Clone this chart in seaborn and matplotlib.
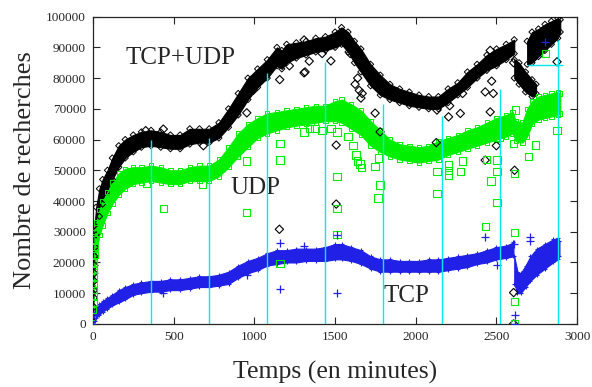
import numpy as np
import pandas as pd
import matplotlib
matplotlib.use("Agg")
import matplotlib.pyplot as plt
import seaborn as sns


# temps en minutes, valeurs en milliers de recherches (bord bas / bord haut de la bande)
TOTAL_TIMES = [0, 10, 20, 40, 60, 90, 120, 160, 200, 250, 300, 360, 420, 480, 540, 600, 660, 720,
               780, 840, 900, 960, 1020, 1080, 1140, 1170, 1200, 1260, 1320, 1380, 1440, 1500,
               1540, 1580, 1620, 1660, 1720, 1780, 1840, 1900, 1960, 2020, 2080, 2140, 2200,
               2260, 2320, 2380, 2440, 2500, 2560, 2610]
TOTAL_LO = [2, 22, 29, 35, 39, 43, 47, 51, 54, 56, 57.5, 58, 57.5, 57, 57, 58.5, 59, 59, 60.5, 64,
            68, 73, 77, 80, 84, 83, 85, 86.5, 87.5, 88.5, 89, 90, 91, 88.5, 85, 82, 77.5, 74.5, 73,
            72, 71, 70.5, 70, 70, 72, 74.5, 77, 80, 82.5, 84, 86, 88]
TOTAL_HI = [10, 32, 38, 44, 47, 50, 54, 58, 60, 61.5, 62.5, 63, 62.5, 61.5, 61.5, 63.5, 63.5, 63.5,
            65.5, 70, 75, 80, 83, 86, 90, 89, 91, 91.5, 92, 93, 93.5, 95, 96.5, 95, 92, 89.5, 84.5,
            81, 78, 76.5, 75.5, 74.5, 74, 74, 76.5, 78.5, 82, 84.5, 87.5, 89.5, 91, 92.5]

TOTAL_BLOB_TIMES = [2610, 2640, 2680, 2720, 2745]
TOTAL_BLOB_LO = [80, 78, 75.5, 74, 75]
TOTAL_BLOB_HI = [86, 85, 82, 79.5, 78]

TOTAL_END_TIMES = [2690, 2720, 2760, 2800, 2840, 2880, 2895]
TOTAL_END_LO = [84.5, 85, 87, 89, 91, 93, 95]
TOTAL_END_HI = [92, 95, 96, 97.5, 98.5, 99.5, 99]

UDP_TIMES = [0, 10, 20, 40, 60, 90, 120, 160, 200, 250, 300, 360, 420, 480, 540, 600, 660, 720,
             780, 840, 900, 960, 1020, 1080, 1140, 1200, 1260, 1320, 1380, 1440, 1500, 1540,
             1600, 1660, 1720, 1780, 1840, 1900, 1960, 2020, 2080, 2140, 2200, 2260, 2320, 2380,
             2440, 2500, 2560, 2600, 2620, 2660, 2690, 2720, 2760, 2800, 2840, 2880, 2895]
UDP_LO = [2, 17, 23, 29, 32, 36, 39, 42, 44, 45.5, 46, 46.5, 46, 45.5, 45.5, 46.5, 46.5, 46.5, 48,
          51, 54.5, 57.5, 60.5, 62, 63, 64, 64.5, 65, 65.5, 66, 66, 65.5, 63.5, 61.5, 58, 56, 54.5,
          53.5, 53, 52.5, 53, 53.5, 55, 56, 57, 58, 59, 60, 61, 62, 59.5, 59, 61, 65, 66.5, 67,
          67.5, 68, 68.5]
UDP_HI = [12, 30, 33, 37, 40, 43, 46, 49, 50.5, 51, 51, 51.5, 51, 50, 50, 51, 51.5, 51.5, 53.5,
          57.5, 62, 65, 67, 68.5, 69, 69.5, 70, 70.5, 71, 71, 72.5, 73, 71.5, 69.5, 66, 63, 60,
          58.5, 58, 57.5, 58, 59.5, 60.5, 61.5, 63, 64, 65.5, 67, 68, 69, 66, 65.5, 70, 72.5, 74,
          74.5, 75, 75.5, 75]

TCP_TIMES = [0, 10, 20, 40, 60, 90, 120, 160, 200, 250, 300, 360, 420, 480, 540, 600, 660, 720,
             780, 840, 900, 960, 1020, 1080, 1140, 1200, 1260, 1320, 1380, 1440, 1500, 1540,
             1600, 1660, 1720, 1780, 1840, 1900, 1960, 2020, 2080, 2140, 2200, 2260, 2320, 2380,
             2440, 2500, 2560, 2605]
TCP_LO = [0, 1, 2, 3, 4, 5, 6, 7, 8, 9.5, 10, 10.5, 10.5, 11, 11, 11.5, 12, 12, 12.5, 13, 15, 16.5,
          17.5, 19, 19.5, 20, 20, 20.5, 20.5, 20.5, 21, 21, 20.5, 19.5, 18, 17, 17, 17, 17, 17, 17,
          17, 17.5, 18, 18.5, 19.5, 20, 21, 21.5, 22]
TCP_HI = [2.5, 4, 5, 6.5, 7.5, 8.5, 9.5, 11, 12, 13, 13.5, 14, 14, 14.5, 14.5, 15, 15.5, 15.5, 16,
          17, 19, 20.5, 21.5, 23, 24, 24, 24.5, 24.5, 24.5, 25, 26, 26, 25, 24, 22, 21, 21, 20.5,
          20.5, 20.5, 21, 21, 21.5, 22, 22.5, 23, 24, 25, 25.5, 26.5]

TCP_END_TIMES = [2610, 2630, 2650, 2680, 2710, 2750, 2800, 2850, 2880, 2890]
TCP_END_LO = [13, 10, 10, 12, 14, 16, 18, 20, 21, 22]
TCP_END_HI = [22, 17, 16.5, 19, 22, 24.5, 26, 27.5, 28, 27]

# points isoles
TOTAL_START_T = [1, 2, 3, 4, 5, 6, 7, 8]
TOTAL_START_V = [5.5, 8.5, 11, 14, 16.5, 19, 22, 25]
UDP_START_T = [1, 2, 3, 4, 5, 6, 7, 8, 9, 10, 11]
UDP_START_V = [4.5, 7, 9, 11, 13, 15.5, 17.5, 20, 22.5, 25, 27.5]

TOTAL_OUT_T = [327, 436, 684, 953, 993, 1155, 1157, 1217, 1308, 1308, 1314, 1340, 1420, 1474,
               1507, 1507, 1594, 1624, 1640, 1650, 1660, 1668, 1748, 1779, 2127, 2131, 2203,
               2210, 2276, 2290, 2430, 2430, 2461, 2461, 2470, 2480, 2499, 2606, 2606, 2606,
               2612, 2875]
TOTAL_OUT_V = [62.9, 63.4, 58, 68.7, 76, 30.8, 79.5, 84, 92.4, 81.7, 82, 85.5, 88, 85.6, 58.2,
               39, 88, 78, 80, 76, 73.5, 75, 68.6, 62.5, 59, 69.6, 67.4, 71, 68.5, 75, 75.5, 53.3,
               69, 89, 79, 75, 58, 85, 10.2, 0, 50, 85.3]

UDP_OUT_T = [333, 436, 680, 953, 953, 1159, 1159, 1159, 1308, 1340, 1376, 1420, 1474, 1511,
             1511, 1511, 1511, 1580, 1610, 1630, 1640, 1655, 1662, 1748, 1765, 1770, 1779, 2131,
             2131, 2203, 2203, 2203, 2276, 2290, 2430, 2440, 2466, 2503, 2503, 2503, 2519, 2606,
             2612, 2612, 2612, 2612, 2616, 2699, 2740, 2802, 2875]
UDP_OUT_V = [45.8, 37.6, 45.4, 53, 36.2, 58.8, 53.3, 19.7, 62.5, 63.5, 63.7, 63, 63.6, 62.5,
             47.9, 37.6, 29, 61, 58, 55, 53, 52, 51, 51.2, 41, 54, 45.2, 49.5, 42.5, 48.5, 50,
             51.7, 49.5, 53, 31.6, 53.5, 46.5, 53.3, 49.5, 39.5, 60.7, 58.8, 29.8, 7.2, 0, 49,
             69.6, 54.4, 58.2, 88, 63]

TCP_OUT_T = [436, 953, 1159, 1159, 1310, 1511, 1511, 2430, 2503, 2606, 2612, 2612, 2707, 2710, 2802]
TCP_OUT_V = [10, 16, 26.2, 11.3, 25.5, 10, 29, 28.2, 19.2, 26, 2.9, 0, 28.3, 27, 91.8]

# reperes toutes les 6 heures
SIX_HOURS = [360, 720, 1080, 1440, 1800, 2160, 2520, 2880]
SIX_HOURS_TOP = [60, 60.4, 81.5, 85.3, 71.5, 67.6, 76.3, 92.4]
MARK_LEVEL = 84.2
MARK_START, MARK_END = 2695, 2912

BLACK = "#000000"
GREEN = "#00ee00"
BLUE = "#2020e6"
CYAN = "#00e8f0"


def scatter_points(ax, times, values, color, marker, size=30, zorder=4, lw=0.8):
    df = pd.DataFrame({"t": times, "v": np.asarray(values) * 1000})
    if marker == "+":
        sns.scatterplot(data=df, x="t", y="v", ax=ax, marker="+", color=color, s=size,
                        linewidth=lw + 0.1, zorder=zorder)
    else:
        sns.scatterplot(data=df, x="t", y="v", ax=ax, marker=marker, s=size, facecolor="none",
                        edgecolor=color, linewidth=lw, zorder=zorder)


def draw_band(ax, times, lo, hi, color, marker):
    t = np.asarray(times)
    ax.fill_between(t, np.asarray(lo) * 1000, np.asarray(hi) * 1000, color=color, lw=0.8,
                    edgecolor=color, zorder=2)
    # petits marqueurs sur les bords pour l'aspect granuleux
    scatter_points(ax, list(t) + list(t), list(lo) + list(hi), color, marker, size=10,
                   zorder=3, lw=0.7)


sns.set_style("ticks")
plt.rcParams["font.family"] = ["Liberation Serif", "DejaVu Serif"]

fig = plt.figure(figsize=(5.92, 3.87), dpi=100)
ax = fig.add_axes([0.157, 0.163, 0.818, 0.794])

draw_band(ax, TOTAL_TIMES, TOTAL_LO, TOTAL_HI, BLACK, "D")
draw_band(ax, TOTAL_BLOB_TIMES, TOTAL_BLOB_LO, TOTAL_BLOB_HI, BLACK, "D")
draw_band(ax, TOTAL_END_TIMES, TOTAL_END_LO, TOTAL_END_HI, BLACK, "D")
draw_band(ax, UDP_TIMES, UDP_LO, UDP_HI, GREEN, "s")
draw_band(ax, TCP_TIMES, TCP_LO, TCP_HI, BLUE, "+")
draw_band(ax, TCP_END_TIMES, TCP_END_LO, TCP_END_HI, BLUE, "+")

scatter_points(ax, TOTAL_START_T, TOTAL_START_V, BLACK, "D", size=18)
scatter_points(ax, UDP_START_T, UDP_START_V, GREEN, "s", size=22)
scatter_points(ax, TOTAL_OUT_T, TOTAL_OUT_V, BLACK, "D", size=18)
scatter_points(ax, UDP_OUT_T, UDP_OUT_V, GREEN, "s", size=28)
scatter_points(ax, TCP_OUT_T, TCP_OUT_V, BLUE, "+", size=40)

ax.vlines(SIX_HOURS, 0, np.asarray(SIX_HOURS_TOP) * 1000, color=CYAN, lw=1.0, zorder=6)
ax.hlines(MARK_LEVEL * 1000, MARK_START, MARK_END, color=CYAN, lw=1.0, zorder=6)

ax.text(540, 86500, "TCP+UDP", fontsize=18, ha="center", va="center")
ax.text(1004, 44200, "UDP", fontsize=18, ha="center", va="center")
ax.text(1940, 9100, "TCP", fontsize=18, ha="center", va="center")

ax.set_xlim(0, 3000)
ax.set_ylim(0, 100000)
ax.set_xticks(range(0, 3001, 500))
ax.set_yticks(range(0, 100001, 10000))
ax.tick_params(direction="in", length=5, width=0.8, top=True, right=True, labelsize=9.5, pad=5)
for spine in ax.spines.values():
    spine.set_linewidth(0.9)
    spine.set_visible(True)

ax.set_xlabel("Temps (en minutes)", fontsize=18.5, labelpad=13)
ax.set_ylabel("Nombre de recherches", fontsize=19, labelpad=7)

fig.savefig("out.png", dpi=100)
